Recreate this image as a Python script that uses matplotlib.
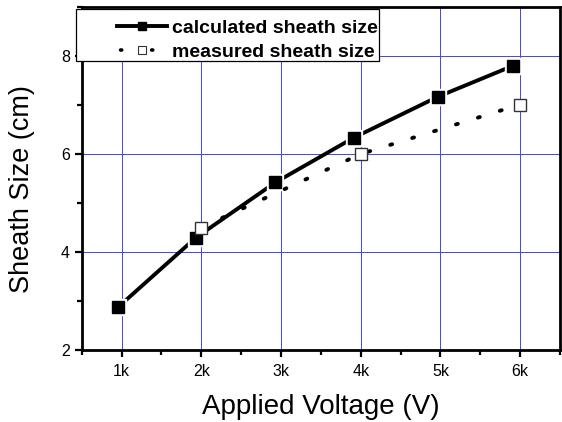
import matplotlib
matplotlib.use("Agg")
import matplotlib.pyplot as plt
from matplotlib.patches import Rectangle
from matplotlib.ticker import FixedLocator, MultipleLocator

# ---- data ----
calc_voltage = [960, 1930, 2930, 3910, 4970, 5910]
calc_size = [2.88, 4.29, 5.42, 6.33, 7.17, 7.80]
meas_voltage = [2000, 4000, 6000]
meas_size = [4.50, 6.00, 7.01]
x_ticks = [1000, 2000, 3000, 4000, 5000, 6000]
x_tick_labels = ["1k", "2k", "3k", "4k", "5k", "6k"]
y_ticks = [2, 4, 6, 8]
labels = ["calculated sheath size", "measured sheath size"]

plt.rcParams['font.family'] = ['Liberation Sans', 'DejaVu Sans']

fig = plt.figure(figsize=(5.62, 4.22), dpi=100)
ax = fig.add_axes([0.1454, 0.1706, 0.8510, 0.8128])

grid_color = '#4646ff'
ax.set_xlim(500, 6500)
ax.set_ylim(2, 9)
ax.xaxis.set_major_locator(FixedLocator(x_ticks))
ax.set_xticklabels(x_tick_labels)
ax.xaxis.set_minor_locator(MultipleLocator(500))
ax.yaxis.set_major_locator(FixedLocator(y_ticks))
ax.yaxis.set_minor_locator(MultipleLocator(1))
ax.grid(True, which='major', color=grid_color, linewidth=0.72)
ax.set_axisbelow(True)

for s in ax.spines.values():
    s.set_linewidth(2.0)
ax.tick_params(which='major', direction='out', length=5, width=1.6,
               labelsize=11.5, pad=5)
ax.tick_params(which='minor', direction='out', length=3.5, width=1.6)
ax.tick_params(axis='y', which='major', pad=3.5)

# calculated series
l1, = ax.plot(calc_voltage, calc_size, color='black', linewidth=2.8,
              solid_capstyle='butt', zorder=2)
ax.plot(calc_voltage, calc_size, linestyle='none', marker='s',
        markersize=12, markerfacecolor='white', markeredgecolor='white', zorder=2.1)
ax.plot(calc_voltage, calc_size, linestyle='none', marker='s',
        markersize=9, markerfacecolor='black', markeredgecolor='black', zorder=2.2)

# measured series
l2, = ax.plot(meas_voltage, meas_size, color='black', linewidth=2.8,
              linestyle=(0, (0.5, 5.4)), dash_capstyle='round', zorder=2.3)
ax.plot(meas_voltage, meas_size, linestyle='none', marker='s',
        markersize=9, markerfacecolor='white', markeredgecolor='#333333',
        markeredgewidth=1.0, zorder=2.4)

# legend handles (styled like the plotted series)
h1, = ax.plot([], [], color='black', linewidth=2.8, marker='s', markersize=5.5,
              markerfacecolor='black', markeredgecolor='black')
h2, = ax.plot([], [], color='black', linewidth=2.6, linestyle=(7.6, (0.3, 8.3)),
              dash_capstyle='round', marker='s', markersize=5.5,
              markerfacecolor='white', markeredgecolor='#333333', markeredgewidth=0.8)

# legend box
box = Rectangle((-0.0119, 0.8426), 0.6335, 0.1516, transform=ax.transAxes,
                facecolor='white', edgecolor='black', linewidth=0.9,
                clip_on=False, zorder=4)
ax.add_patch(box)
leg = ax.legend([h1, h2], labels, loc='upper left', bbox_to_anchor=(0.0738, 0.9640),
                frameon=False, borderpad=0, borderaxespad=0, handlelength=2.58,
                handletextpad=0.24, labelspacing=0.34, numpoints=1,
                prop={'weight': 'bold', 'size': 14})
leg.set_zorder(5)

ax.set_xlabel("Applied Voltage (V)", fontsize=20)
ax.xaxis.set_label_coords(0.5, -0.128)
ax.set_ylabel("Sheath Size (cm)", fontsize=19.5, va='center')
ax.yaxis.set_label_coords(-0.1259, 0.4694)

fig.savefig("out.png", dpi=100)
